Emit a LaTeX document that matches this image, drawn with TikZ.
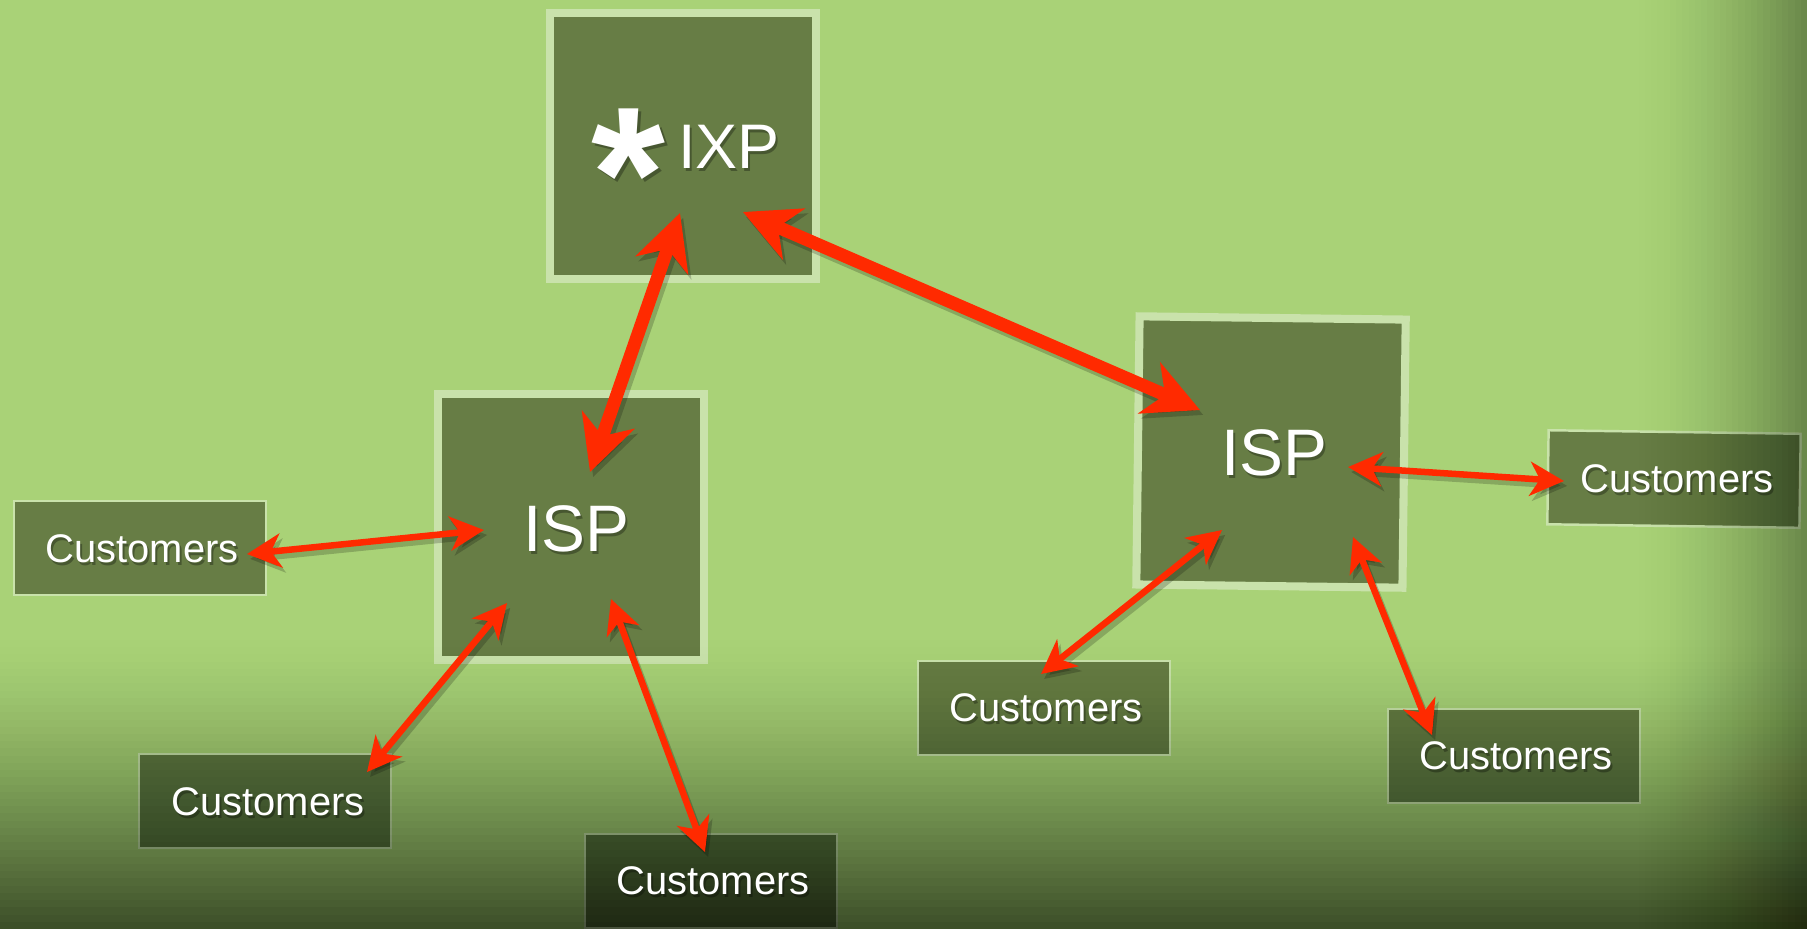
\documentclass[tikz,border=0pt]{standalone}
\usepackage{fontspec}
\setmainfont{Liberation Sans}
\usetikzlibrary{arrows.meta,calc}

\definecolor{bggreen}{HTML}{A9D277}
\definecolor{boxgreen}{HTML}{677D45}
\definecolor{boxrim}{HTML}{C9E2AB}
\definecolor{linkred}{HTML}{FF2A00}

\tikzset{
	bigbox/.style={draw=boxrim, line width=2.3pt, fill=boxgreen, inner sep=0pt, minimum width=2.66cm, minimum height=2.66cm},
	custbox/.style={draw=boxrim, line width=0.7pt, fill=boxgreen, inner sep=0pt, minimum width=2.52cm, minimum height=0.94cm},
	bigtxt/.style={text=white, inner sep=0pt, font=\fontsize{18.7}{20}\selectfont},
	smalltxt/.style={text=white, inner sep=0pt, font=\fontsize{11.35}{13}\selectfont},
	biglink/.style={draw=linkred, line width=3.7pt, {Stealth[length=0.55cm,width=0.55cm,inset=0.17cm]}-{Stealth[length=0.55cm,width=0.55cm,inset=0.17cm]}},
	smalllink/.style={draw=linkred, line width=1.85pt, {Stealth[length=0.34cm,width=0.34cm,inset=0.1cm]}-{Stealth[length=0.34cm,width=0.34cm,inset=0.1cm]}}
}

\begin{document}
\begin{tikzpicture}[x=0.01cm, y=-0.01cm]
	\useasboundingbox (0,0) rectangle (1807,929);
	\clip (0,0) rectangle (1807,929);
	\fill[bggreen] (0,0) rectangle (1807,929);

	\node[bigbox] (ixp) at (683,146) {};
	\node[bigbox] (lisp) at (571,527) {};
	\node[bigbox, rotate=-0.7, minimum height=2.68cm] (risp) at (1271,452) {};

	\node[custbox] (custL) at (140,548) {};
	\node[custbox] (custSW) at (265,801) {};
	\node[custbox] (custS) at (711,881) {};
	\node[custbox] (custM) at (1044,708) {};
	\node[custbox] (custSE) at (1514,756) {};
	\node[custbox, rotate=-0.8] (custE) at (1674,479) {};

	% darkening towards the bottom and the right edge
	\foreach \i in {1,...,40}{
		\pgfmathsetmacro\dnow{0.57*(\i/40)*sqrt(\i/40)}
		\pgfmathsetmacro\dold{0.57*((\i-1)/40)*sqrt((\i-1)/40)}
		\pgfmathsetmacro\dstep{1-(1-\dnow)/(1-\dold)}
		\fill[black, opacity=\dstep] (0,{640+(\i-1)*289/40}) rectangle (1807,929);
	}
	\foreach \i in {1,...,30}{
		\pgfmathsetmacro\dnow{0.3*(\i/30)*(\i/30)}
		\pgfmathsetmacro\dold{0.3*((\i-1)/30)*((\i-1)/30)}
		\pgfmathsetmacro\dstep{1-(1-\dnow)/(1-\dold)}
		\fill[black, opacity=\dstep] ({1620+(\i-1)*187/30},0) rectangle (1807,929);
	}

	\node[text=black, opacity=0.3, inner sep=0pt, font=\fontsize{54}{54}\bfseries] (star-shade) at (631,177) {*};
	\node[text=white, inner sep=0pt, font=\fontsize{54}{54}\bfseries] (star) at (628,174) {*};
	\node[bigtxt, text=black, opacity=0.3, font=\fontsize{17.9}{20}\selectfont] (ixp-shade) at (731,150) {IXP};
	\node[bigtxt, font=\fontsize{17.9}{20}\selectfont] (ixp-text) at (729,147) {IXP};

	\foreach \p/\t/\s/\o in {lisp/ISP/bigtxt/{5,2}, risp/ISP/bigtxt/{3,1}, custL/Customers/smalltxt/{2,1}, custSW/Customers/smalltxt/{3,1}, custS/Customers/smalltxt/{2,0}, custM/Customers/smalltxt/{2,0}, custSE/Customers/smalltxt/{2,0}, custE/Customers/smalltxt/{3,0}}{
		\node[\s, text=black, opacity=0.3] (\p-shade) at ($(\p)+(\o)+(2,3)$) {\t};
		\node[\s] (\p-text) at ($(\p)+(\o)$) {\t};
	}

	\coordinate (ixp-s) at ($(ixp)+(-3,67)$);
	\coordinate (ixp-se) at ($(ixp)+(60,66)$);
	\coordinate (lisp-n) at ($(lisp)+(19,-55)$);
	\coordinate (lisp-w) at ($(lisp)+(-87,3)$);
	\coordinate (lisp-sw) at ($(lisp)+(-64,76)$);
	\coordinate (lisp-s) at ($(lisp)+(40,72)$);
	\coordinate (risp-nw) at ($(risp)+(-71,-42)$);
	\coordinate (risp-e) at ($(risp)+(77,15)$);
	\coordinate (risp-sw) at ($(risp)+(-49,78)$);
	\coordinate (risp-se) at ($(risp)+(82,85)$);
	\coordinate (custL-e) at ($(custL)+(107,6)$);
	\coordinate (custSW-ne) at ($(custSW)+(102,-29)$);
	\coordinate (custS-n) at ($(custS)+(-6,-29)$);
	\coordinate (custM-n) at ($(custM)+(-3,-34)$);
	\coordinate (custSE-nw) at ($(custSE)+(-82,-21)$);
	\coordinate (custE-w) at ($(custE)+(-110,2)$);

	\foreach \a/\b/\s in {ixp-s/lisp-n/biglink, ixp-se/risp-nw/biglink, custL-e/lisp-w/smalllink, lisp-sw/custSW-ne/smalllink, lisp-s/custS-n/smalllink, risp-e/custE-w/smalllink, risp-sw/custM-n/smalllink, risp-se/custSE-nw/smalllink}{
		\draw[\s, draw=black, opacity=0.2, transform canvas={shift={(0.9pt,-1.4pt)}}] (\a) -- (\b);
		\draw[\s] (\a) -- (\b);
	}
\end{tikzpicture}
\end{document}
